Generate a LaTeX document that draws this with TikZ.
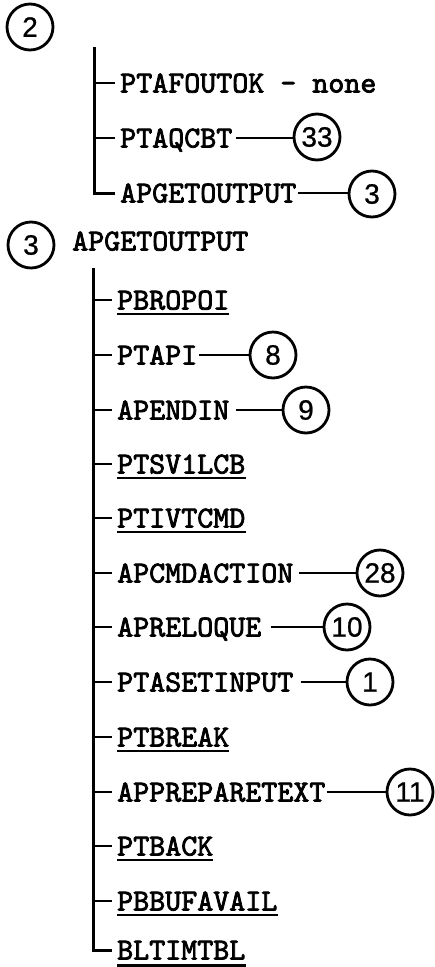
\documentclass[tikz,border=0pt]{standalone}
\usepackage{fontspec}
\newfontfamily\numfont[FakeBold=0.8]{Liberation Sans}
\newfontfamily\callfam{lmmono10-regular.otf}[FakeBold=2.5]
\usetikzlibrary{calc}

\newcommand{\callfont}{\fontsize{30.5}{36}\selectfont\callfam}

\tikzset{
  call/.style={font=\callfont, inner sep=0pt, text height=19pt, text depth=0pt, anchor=west},
  ref/.style={circle, draw, line width=2.8pt, minimum size=46pt, inner sep=0pt,
    font=\fontsize{28}{30}\selectfont\numfont},
  trunk/.style={line width=3pt},
  link/.style={line width=2.8pt},
  uline/.style={line width=2.2pt}
}

\begin{document}
\begin{tikzpicture}[x=1pt,y=-1pt]
  \useasboundingbox (0,0) rectangle (435,967);

  % module 2
  \node[ref] (m2) at (30,27) {2};
  \coordinate (top1) at (94,47);
  \node[call] (a1) at (120,83) {PTAFOUTOK - none};
  \node[call] (a2) at (120,138) {PTAQCBT};
  \node[call] (a3) at (120,193) {APGETOUTPUT};
  \node[ref] (c33) at (317,137) {33};
  \node[ref] (c3) at (372,194) {3};
  \draw[trunk] (top1) |- ([xshift=-5pt]a3.west);
  \draw[link] (top1 |- a1) -- ([xshift=-5pt]a1.west);
  \draw[link] (top1 |- a2) -- ([xshift=-5pt]a2.west);
  \draw[link] ([xshift=4pt]a2.east) -- (c33.west |- a2);
  \draw[link] ([xshift=1pt]a3.east) -- (c3.west |- a3);

  % module 3
  \node[ref] (m3) at (31,245) {3};
  \node[call] (hd) at (72,241) {APGETOUTPUT};
  \coordinate (top2) at (93,268);
  \node[call] (b0) at (117,300) {PBROPOI};
  \node[call] (b1) at (117,355) {PTAPI};
  \node[call] (b2) at (117,410) {APENDIN};
  \node[call] (b3) at (117,464) {PTSV1LCB};
  \node[call] (b4) at (117,518) {PTIVTCMD};
  \node[call] (b5) at (117,573) {APCMDACTION};
  \node[call] (b6) at (117,627) {APRELOQUE};
  \node[call] (b7) at (117,682) {PTASETINPUT};
  \node[call] (b8) at (117,737) {PTBREAK};
  \node[call] (b9) at (117,792) {APPREPARETEXT};
  \node[call] (b10) at (117,846) {PTBACK};
  \node[call] (b11) at (117,901) {PBBUFAVAIL};
  \node[call] (b12) at (117,950) {BLTIMTBL};

  \node[ref] (c8) at (273,355) {8};
  \node[ref] (c9) at (306,410) {9};
  \node[ref] (c28) at (380,573) {28};
  \node[ref] (c10) at (347,627) {10};
  \node[ref] (c1) at (370,682) {1};
  \node[ref] (c11) at (410,792) {11};

  \draw[trunk] (top2) |- ([xshift=-5pt]b12.west);
  \foreach \n in {b0,b1,b2,b3,b4,b5,b6,b7,b8,b9,b10,b11}
    \draw[link] (top2 |- \n) -- ([xshift=-5pt]\n.west);
  \foreach \n in {b0,b3,b4,b8,b10,b11}
    \draw[uline] ([yshift=-14pt]\n.west) -- ([yshift=-14pt]\n.east);
  \draw[uline] ([yshift=-15.5pt]b12.west) -- ([yshift=-15.5pt]b12.east);

  \draw[link] ([xshift=2pt]b1.east) -- (c8.west |- b1);
  \draw[link] ([xshift=7pt]b2.east) -- (c9.west |- b2);
  \draw[link] ([xshift=5pt]b5.east) -- (c28.west |- b5);
  \draw[link] ([xshift=9pt]b6.east) -- (c10.west |- b6);
  \draw[link] ([xshift=7pt]b7.east) -- (c1.west |- b7);
  \draw[link] ([xshift=1pt]b9.east) -- (c11.west |- b9);
\end{tikzpicture}
\end{document}
